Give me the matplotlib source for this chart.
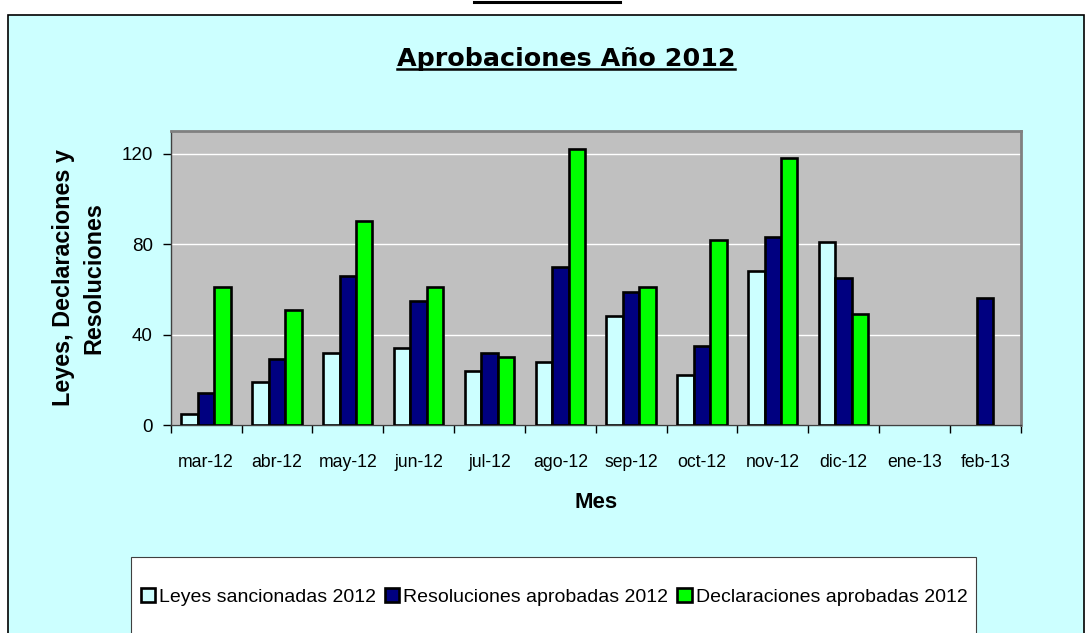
import numpy as np
import matplotlib
matplotlib.use("Agg")
import matplotlib.pyplot as plt
from matplotlib.patches import Rectangle
from matplotlib.lines import Line2D

W, H = 1086, 633

meses = ["mar-12", "abr-12", "may-12", "jun-12", "jul-12", "ago-12",
         "sep-12", "oct-12", "nov-12", "dic-12", "ene-13", "feb-13"]
leyes = [5, 19, 32, 34, 24, 28, 48, 22, 68, 81, 0, 0]
resoluciones = [14, 29, 66, 55, 32, 70, 59, 35, 83, 65, 0, 56]
declaraciones = [61, 51, 90, 61, 30, 122, 61, 82, 118, 49, 0, 0]

series = [
    ("Leyes sancionadas 2012", leyes, "#CCFFFF"),
    ("Resoluciones aprobadas 2012", resoluciones, "#000080"),
    ("Declaraciones aprobadas 2012", declaraciones, "#00FF00"),
]

plt.rcParams["font.family"] = ["Liberation Sans", "DejaVu Sans"]

fig = plt.figure(figsize=(W / 100, H / 100), dpi=100)
fig.patch.set_facecolor("white")

def fx(x):
    return x / W

def fy(y):
    return 1 - y / H

# marco exterior celeste
fig.add_artist(Rectangle((fx(8), fy(700)), fx(1084) - fx(8), fy(15) - fy(700),
                         transform=fig.transFigure, facecolor="#CCFFFF",
                         edgecolor="black", linewidth=1.2, zorder=0))
# linea negra arriba
fig.add_artist(Line2D([fx(474), fx(620)], [fy(1.5), fy(1.5)],
                      transform=fig.transFigure, color="black", linewidth=2.2))

ax = fig.add_axes([fx(170.7), fy(425), fx(1020.7) - fx(170.7), fy(131) - fy(425)])
ax.set_facecolor("#C0C0C0")

x = np.arange(len(meses))
w = 0.232
for i, (nombre, vals, color) in enumerate(series):
    vals = np.array(vals, dtype=float)
    vals[vals == 0] = np.nan  # las barras en cero no se dibujan
    ax.bar(x + (i - 1) * w, vals, width=w, color=color, edgecolor="black",
           linewidth=1.9, label=nombre, zorder=3)

ax.set_xlim(-0.5, len(meses) - 0.5)
ax.set_ylim(0, 130)
ax.set_yticks([0, 40, 80, 120])
ax.yaxis.grid(True, color="white", linewidth=1.0, zorder=1)
ax.set_axisbelow(True)
ax.tick_params(axis="y", length=6, width=1, pad=7, labelsize=13.5, colors="black")

ax.set_xticks(np.arange(len(meses) + 1) - 0.5)
ax.set_xticklabels([])
ax.tick_params(axis="x", which="major", length=6, width=1)
ax.set_xticks(x, minor=True)
ax.set_xticklabels(meses, minor=True)
ax.tick_params(axis="x", which="minor", length=0, pad=21, labelsize=12.7)

for lado in ["top", "right"]:
    ax.spines[lado].set_color("#808080")
    ax.spines[lado].set_linewidth(2)
for lado in ["left", "bottom"]:
    ax.spines[lado].set_color("#404040")
    ax.spines[lado].set_linewidth(1)

# titulo subrayado
t = fig.text(fx(566), fy(66), "Aprobaciones Año 2012", ha="center", va="baseline",
             fontsize=18.3, fontweight="bold", family=["DejaVu Sans"])
fig.canvas.draw()
bb = t.get_window_extent()
fig.add_artist(Line2D([bb.x0 / W, bb.x1 / W], [fy(69), fy(69)],
                      transform=fig.transFigure, color="black", linewidth=1.8))

fig.text(fx(79), fy(278), "Leyes, Declaraciones y\nResoluciones", rotation=90,
         ha="center", va="center", multialignment="center",
         fontsize=16.8, fontweight="bold", linespacing=1.4)
fig.text(fx(596), fy(503), "Mes", ha="center", va="center",
         fontsize=16, fontweight="bold")

# leyenda
fig.add_artist(Rectangle((fx(131), fy(700)), fx(976) - fx(131), fy(557) - fy(700),
                         transform=fig.transFigure, facecolor="white",
                         edgecolor="#404040", linewidth=0.8, zorder=1))
h, l = ax.get_legend_handles_labels()
fig.legend(h, l, loc="center", bbox_to_anchor=(fx(554), fy(597)), ncol=3,
           frameon=False, fontsize=14, handlelength=0.75, handleheight=0.75,
           handletextpad=0.2, columnspacing=0.45, borderpad=0)

fig.savefig("out.png", dpi=100, facecolor="white")
